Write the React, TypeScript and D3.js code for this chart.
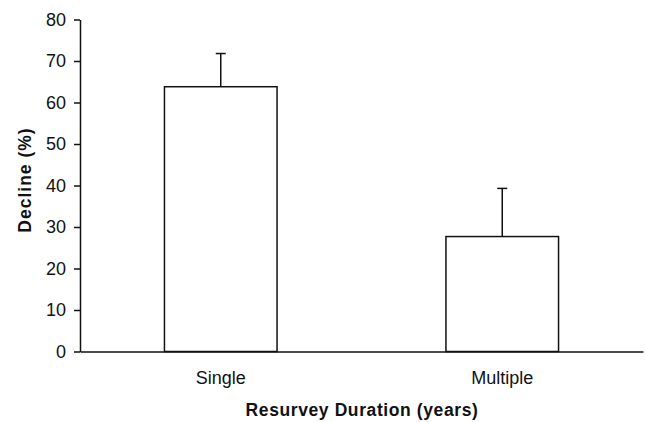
import React, { useRef, useEffect } from 'react';
import * as d3 from 'd3';

// chart data
const categories = ["Single", "Multiple"];
const declineMeans = [63.8, 27.7];
const declineErrors = [8.0, 11.6];
const yTicks = [0, 10, 20, 30, 40, 50, 60, 70, 80];

const xTitle = "Resurvey Duration (years)";
const yTitle = "Decline (%)";

const App = () => {
  const w = 645;
  const h = 422;
  const margin = { top: 19.5, right: 2, bottom: 70.5, left: 80 };
  const width = w - margin.left - margin.right;
  const height = h - margin.top - margin.bottom;
  const font = "'Liberation Sans', Arial, Helvetica, sans-serif";

  const svgRef = useRef<SVGSVGElement | null>(null);

  useEffect(() => {
    const root = d3.select(svgRef.current);
    root.selectAll('*').remove();

    const svg = root.append("g")
      .attr("transform", `translate(${margin.left}, ${margin.top})`);

    // scales
    const xScale = d3.scaleBand()
      .domain(categories)
      .range([0, width])
      .paddingInner(0.6)
      .paddingOuter(0.3);

    const yScale = d3.scaleLinear()
      .domain([0, 80])
      .range([height, 0]);

    // bars
    svg.selectAll("rect.bar")
      .data(declineMeans)
      .enter()
      .append("rect")
      .attr("class", "bar")
      .attr("x", (d, i) => xScale(categories[i]) as number)
      .attr("y", d => yScale(d))
      .attr("width", xScale.bandwidth())
      .attr("height", d => height - yScale(d))
      .attr("fill", "#fff")
      .attr("stroke", "#111")
      .attr("stroke-width", 1.5);

    // error bars (upper only)
    const err = svg.append("g").attr("stroke", "#111").attr("stroke-width", 1.5);
    declineMeans.forEach((m, i) => {
      const cx = (xScale(categories[i]) as number) + xScale.bandwidth() / 2;
      err.append("line")
        .attr("x1", cx).attr("x2", cx)
        .attr("y1", yScale(m)).attr("y2", yScale(m + declineErrors[i]));
      err.append("line")
        .attr("x1", cx - 5).attr("x2", cx + 5)
        .attr("y1", yScale(m + declineErrors[i])).attr("y2", yScale(m + declineErrors[i]));
    });

    // y axis
    const yAxis = d3.axisLeft(yScale)
      .tickValues(yTicks)
      .tickSize(6)
      .tickPadding(8)
      .tickSizeOuter(0);

    const yg = svg.append("g").call(yAxis);
    yg.select(".domain").attr("stroke", "#111").attr("stroke-width", 1.5);
    yg.selectAll(".tick line").attr("stroke", "#111").attr("stroke-width", 1.5);
    yg.selectAll(".tick text")
      .attr("fill", "#111")
      .style("font-family", font)
      .style("font-size", "18px");

    // x axis (line only, category labels below)
    const xAxis = d3.axisBottom(xScale)
      .tickSize(0)
      .tickPadding(20)
      .tickSizeOuter(0);

    const xg = svg.append("g")
      .attr("transform", `translate(0, ${height})`)
      .call(xAxis);
    xg.select(".domain").attr("stroke", "#111").attr("stroke-width", 1.5);
    xg.selectAll(".tick text")
      .attr("fill", "#111")
      .style("font-family", font)
      .style("font-size", "18px");

    // axis titles
    svg.append("text")
      .attr("x", 362 - margin.left)
      .attr("y", height + 64)
      .attr("text-anchor", "middle")
      .attr("fill", "#111")
      .style("font-family", font)
      .style("font-size", "17.5px")
      .style("font-weight", "bold")
      .style("letter-spacing", "0.6px")
      .text(xTitle);

    svg.append("text")
      .attr("transform", `translate(${31 - margin.left}, ${180 - margin.top}) rotate(-90)`)
      .attr("text-anchor", "middle")
      .attr("fill", "#111")
      .style("font-family", font)
      .style("font-size", "17.5px")
      .style("font-weight", "bold")
      .style("letter-spacing", "1px")
      .text(yTitle);
  }, []);

  return (
    <div style={{ position: "absolute", left: 0, top: 0, background: "#fff" }}>
      <svg ref={svgRef} width={w} height={h} style={{ display: "block" }}></svg>
    </div>
  );
};

export default App;
